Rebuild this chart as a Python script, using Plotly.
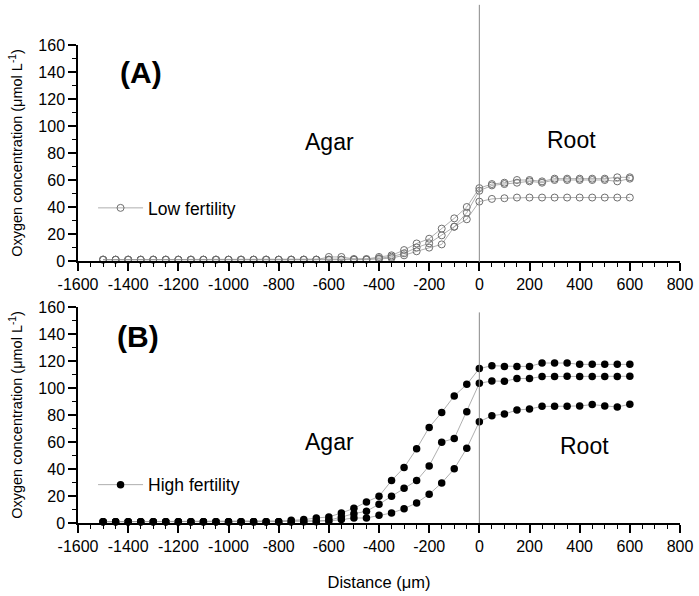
import plotly.graph_objects as go
from plotly.subplots import make_subplots

distance = [-1500, -1450, -1400, -1350, -1300, -1250, -1200, -1150, -1100, -1050,
            -1000, -950, -900, -850, -800, -750, -700, -650, -600, -550,
            -500, -450, -400, -350, -300, -250, -200, -150, -100, -50,
            0, 50, 100, 150, 200, 250, 300, 350, 400, 450,
            500, 550, 600]

low_1 = [1, 1, 1, 1, 1, 1, 1, 1, 1, 1,
         1, 1, 1, 1, 1, 1, 1, 1, 3, 3,
         1.5, 1.5, 3, 4.2, 8.1, 13, 16.5, 24, 31.6, 40,
         54, 57, 58, 60, 60, 59, 61, 61, 61, 61,
         61, 62, 62]
low_2 = [1, 1, 1, 1, 1, 1, 1, 1, 1, 1,
         1, 1, 1, 1, 1, 1, 1, 1, 1, 1,
         1, 1, 2, 3.2, 5.7, 10, 13.1, 19, 25.4, 35.8,
         52, 56, 57, 58, 59, 58, 60, 60, 60, 60,
         60, 59, 61]
low_3 = [1, 1, 1, 1, 1, 1, 1, 1, 1, 1,
         1, 1, 1, 1, 1, 1, 1, 1, 1, 1,
         1, 1, 1.5, 2.2, 4.2, 7.2, 9.9, 12.3, 25.4, 30.9,
         44, 46, 46.5, 47, 47, 47, 47, 47, 47, 47,
         47, 47, 47]

high_1 = [1, 1, 1, 1, 1, 1, 1, 1, 1, 1,
          1, 1, 1, 1, 1, 2, 2.5, 3.7, 4.5, 7.4,
          10.9, 15.6, 19.8, 31.4, 41.1, 55, 70.8, 81.9, 94.1, 102.7,
          114.4, 116.5, 116, 116, 116, 118.5, 118.5, 118.5, 117.5, 117.5,
          117.5, 117.5, 117.5]
high_2 = [1, 1, 1, 1, 1, 1, 1, 1, 1, 1,
          1, 1, 1, 1, 1, 1, 1.2, 1.5, 2, 4.5,
          6.9, 8.7, 13.9, 19.8, 25.7, 31.4, 42.3, 59.9, 62.6, 82.4,
          103.5, 105.2, 105, 107, 107, 108.5, 108.5, 108.7, 108.5, 108.5,
          108.5, 108.5, 108.7]
high_3 = [1, 1, 1, 1, 1, 1, 1, 1, 1, 1,
          1, 1, 1, 1, 1, 1, 1, 1, 1.5, 2.5,
          3.7, 3.7, 5.7, 7.4, 10.6, 14.9, 21.3, 29.7, 40.1, 55.4,
          75, 79.5, 80.7, 83.7, 84.4, 86.4, 86.4, 86.4, 86.7, 87.7,
          86.7, 85.9, 88]

x_ticks = [-1600, -1400, -1200, -1000, -800, -600, -400, -200, 0, 200, 400, 600, 800]
x_tick_labels = ["-1600", "-1400", "-1200", "-1000", "-800", "-600", "-400", "-200",
                 "0", "200", "400", "600", "800"]
y_ticks = [0, 20, 40, 60, 80, 100, 120, 140, 160]

FONT = "Arial, 'Liberation Sans', sans-serif"

fig = make_subplots(rows=2, cols=1, vertical_spacing=0.0962)

for i, ys in enumerate([low_1, low_2, low_3]):
    fig.add_trace(go.Scatter(
        x=distance, y=ys, mode="lines+markers",
        name="Low fertility", showlegend=(i == 0), legend="legend",
        line=dict(color="#9a9a9a", width=0.8),
        marker=dict(symbol="circle-open", size=7, color="#6e6e6e", line=dict(width=1)),
        cliponaxis=False,
    ), row=1, col=1)

for i, ys in enumerate([high_1, high_2, high_3]):
    fig.add_trace(go.Scatter(
        x=distance, y=ys, mode="lines+markers",
        name="High fertility", showlegend=(i == 0), legend="legend2",
        line=dict(color="#9a9a9a", width=0.8),
        marker=dict(symbol="circle", size=7.5, color="black"),
        cliponaxis=False,
    ), row=2, col=1)

axis_common = dict(
    showline=True, linecolor="black", linewidth=1.5, mirror=False,
    ticks="outside", tickcolor="black", tickwidth=1.5, ticklen=8,
    showgrid=False, zeroline=False, automargin=False,
    tickfont=dict(family=FONT, size=16, color="black"),
)

for r in (1, 2):
    fig.update_xaxes(range=[-1600, 800], tickvals=x_ticks, ticktext=x_tick_labels,
                     minor=dict(dtick=50, ticks="outside", ticklen=4, tickwidth=1.2, tickcolor="black"),
                     row=r, col=1, **axis_common)
    fig.update_yaxes(range=[0, 160], tickvals=y_ticks,
                     minor=dict(dtick=10, ticks="outside", ticklen=4, tickwidth=1.2, tickcolor="black"),
                     title=dict(text="Oxygen concentration (μmol L<sup>-1</sup>)",
                                font=dict(family=FONT, size=14.5, color="black"), standoff=12),
                     row=r, col=1, **axis_common)

fig.update_xaxes(title=dict(text="Distance (μm)", font=dict(family=FONT, size=16.5, color="black"),
                            standoff=22), row=2, col=1)

# vertical reference lines at distance 0
fig.add_shape(type="line", xref="x", yref="paper", x0=0, x1=0, y0=0.546, y1=1.084,
              line=dict(color="#888888", width=1))
fig.add_shape(type="line", xref="x2", yref="y2", x0=0, x1=0, y0=0, y1=156,
              line=dict(color="#888888", width=1))

ann_font = dict(family=FONT, size=23, color="black")
fig.add_annotation(x=-1349, y=140, xref="x", yref="y", text="<b>(A)</b>", showarrow=False,
                   font=dict(family=FONT, size=30, color="black"))
fig.add_annotation(x=-599, y=88, xref="x", yref="y", text="Agar", showarrow=False, font=ann_font)
fig.add_annotation(x=366, y=90, xref="x", yref="y", text="Root", showarrow=False, font=ann_font)
fig.add_annotation(x=-1361, y=138, xref="x2", yref="y2", text="<b>(B)</b>", showarrow=False,
                   font=dict(family=FONT, size=30, color="black"))
fig.add_annotation(x=-599, y=60, xref="x2", yref="y2", text="Agar", showarrow=False, font=ann_font)
fig.add_annotation(x=421, y=57, xref="x2", yref="y2", text="Root", showarrow=False, font=ann_font)

fig.update_layout(
    width=699, height=596,
    margin=dict(l=78, r=19, t=45, b=73),
    plot_bgcolor="white", paper_bgcolor="white",
    font=dict(family=FONT, size=15, color="black"),
    legend=dict(x=0.025, y=0.659, xanchor="left", yanchor="middle", bgcolor="rgba(0,0,0,0)",
                font=dict(family=FONT, size=17.5, color="black"), itemwidth=45),
    legend2=dict(x=0.025, y=0.08, xanchor="left", yanchor="middle", bgcolor="rgba(0,0,0,0)",
                 font=dict(family=FONT, size=17.5, color="black"), itemwidth=45),
)

fig.write_html("out.html", config={"displayModeBar": False},
               post_script="document.body.style.margin='0';document.body.style.overflow='hidden';")
